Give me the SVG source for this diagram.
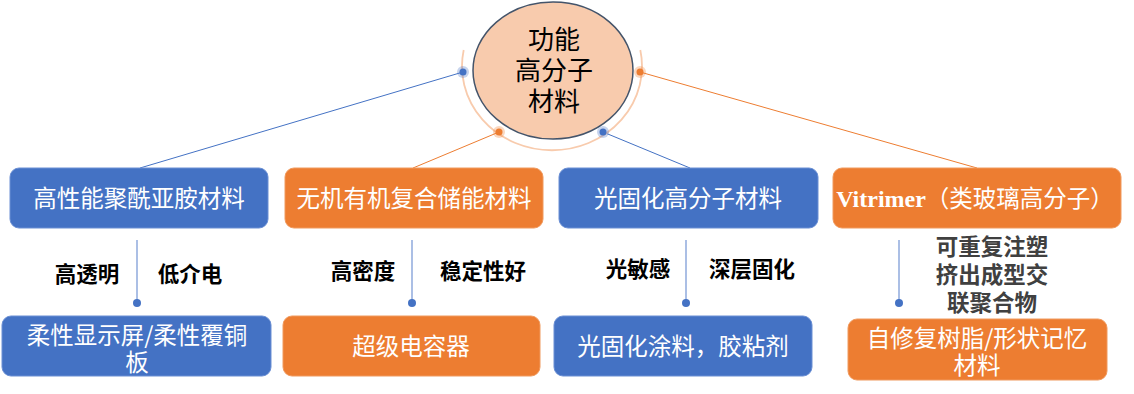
<svg xmlns="http://www.w3.org/2000/svg" width="1134" height="394" viewBox="0 0 1134 394">
<style>
.bb{fill:#4472C4;stroke:#6A8FD4;stroke-width:1}
.ob{fill:#ED7D31;stroke:#F09A5E;stroke-width:1}
.bt{font-family:"Noto Sans CJK SC","Noto Sans",sans-serif;font-size:23.5px;fill:#fff;text-anchor:middle}
.lb{font-family:"Noto Sans CJK SC","Noto Sans",sans-serif;font-size:21.5px;font-weight:bold;fill:#000;text-anchor:middle}
.lg{font-family:"Noto Sans CJK SC","Noto Sans",sans-serif;font-size:22.5px;font-weight:bold;fill:#404040;text-anchor:middle}
.ct{font-family:"Noto Sans CJK SC","Noto Sans",sans-serif;font-size:26px;fill:#000;text-anchor:middle}
.vl{stroke:#8FAADC;stroke-width:1.5;fill:none}
.vd{fill:#4472C4}
</style>
<g id="connectors">
<path d="M463,72 L140,168" stroke="#4472C4" stroke-width="1" fill="none"/>
<path d="M499,132 L413,168" stroke="#ED7D31" stroke-width="1" fill="none"/>
<path d="M603,132 L690,168" stroke="#4472C4" stroke-width="1" fill="none"/>
<path d="M640,72 L977,168" stroke="#ED7D31" stroke-width="1" fill="none"/>
<path class="vl" d="M137,240 V303"/><circle class="vd" cx="137" cy="303" r="4"/>
<path class="vl" d="M412,240 V303"/><circle class="vd" cx="412" cy="303" r="4"/>
<path class="vl" d="M686,240 V303"/><circle class="vd" cx="686" cy="303" r="4"/>
<path class="vl" d="M899,240 V303"/><circle class="vd" cx="899" cy="303" r="4"/>
</g>
<g id="center">
<ellipse cx="553" cy="70.5" rx="80" ry="68.5" fill="#F8CBAD" stroke="#44546A" stroke-width="1.5"/>
<path d="M463.7,50 A90,84 0 1 0 640.3,50" stroke="#F8CBAD" stroke-width="1.8" fill="none"/>
<circle cx="463" cy="72" r="6" fill="#4472C4" opacity="0.3"/><circle cx="463" cy="72" r="3.5" fill="#4472C4"/>
<circle cx="640" cy="72" r="6" fill="#ED7D31" opacity="0.3"/><circle cx="640" cy="72" r="3.5" fill="#ED7D31"/>
<circle cx="499" cy="132" r="6" fill="#ED7D31" opacity="0.3"/><circle cx="499" cy="132" r="3.5" fill="#ED7D31"/>
<circle cx="603" cy="132" r="6" fill="#4472C4" opacity="0.3"/><circle cx="603" cy="132" r="3.5" fill="#4472C4"/>
<text class="ct" x="554" y="49">功能</text>
<text class="ct" x="554" y="80">高分子</text>
<text class="ct" x="554" y="111">材料</text>
</g>
<g id="n1"><rect class="bb" x="10" y="168" width="258" height="60" rx="9"/><text class="bt" x="139" y="207">高性能聚酰亚胺材料</text></g>
<g id="n2"><rect class="ob" x="285" y="168" width="258" height="60" rx="9"/><text class="bt" x="414" y="207">无机有机复合储能材料</text></g>
<g id="n3"><rect class="bb" x="559" y="168" width="259" height="60" rx="9"/><text class="bt" x="688" y="207">光固化高分子材料</text></g>
<g id="n4"><rect class="ob" x="833" y="168" width="288" height="60" rx="9"/><text class="bt" x="975" y="207"><tspan font-family="Liberation Serif,serif" font-weight="bold" font-size="24">Vitrimer</tspan>（类玻璃高分子）</text></g>
<g id="l1"><text class="lb" x="87" y="282">高透明</text><text class="lb" x="190" y="282">低介电</text></g>
<g id="l2"><text class="lb" x="363" y="279">高密度</text><text class="lb" x="483" y="279">稳定性好</text></g>
<g id="l3"><text class="lb" x="638" y="277">光敏感</text><text class="lb" x="752" y="277">深层固化</text></g>
<g id="l4"><text class="lg" x="992" y="255">可重复注塑</text><text class="lg" x="992" y="283">挤出成型交</text><text class="lg" x="992" y="311">联聚合物</text></g>
<g id="m1"><rect class="bb" x="2" y="316" width="269" height="60" rx="9"/><text class="bt" x="137" y="344">柔性显示屏/柔性覆铜</text><text class="bt" x="137" y="371">板</text></g>
<g id="m2"><rect class="ob" x="283" y="316" width="257" height="60" rx="9"/><text class="bt" x="411" y="355">超级电容器</text></g>
<g id="m3"><rect class="bb" x="554" y="316" width="258" height="60" rx="9"/><text class="bt" x="683" y="355">光固化涂料，胶粘剂</text></g>
<g id="m4"><rect class="ob" x="848" y="319" width="259" height="61" rx="9"/><text class="bt" x="977" y="347">自修复树脂/形状记忆</text><text class="bt" x="977" y="374">材料</text></g>
</svg>
